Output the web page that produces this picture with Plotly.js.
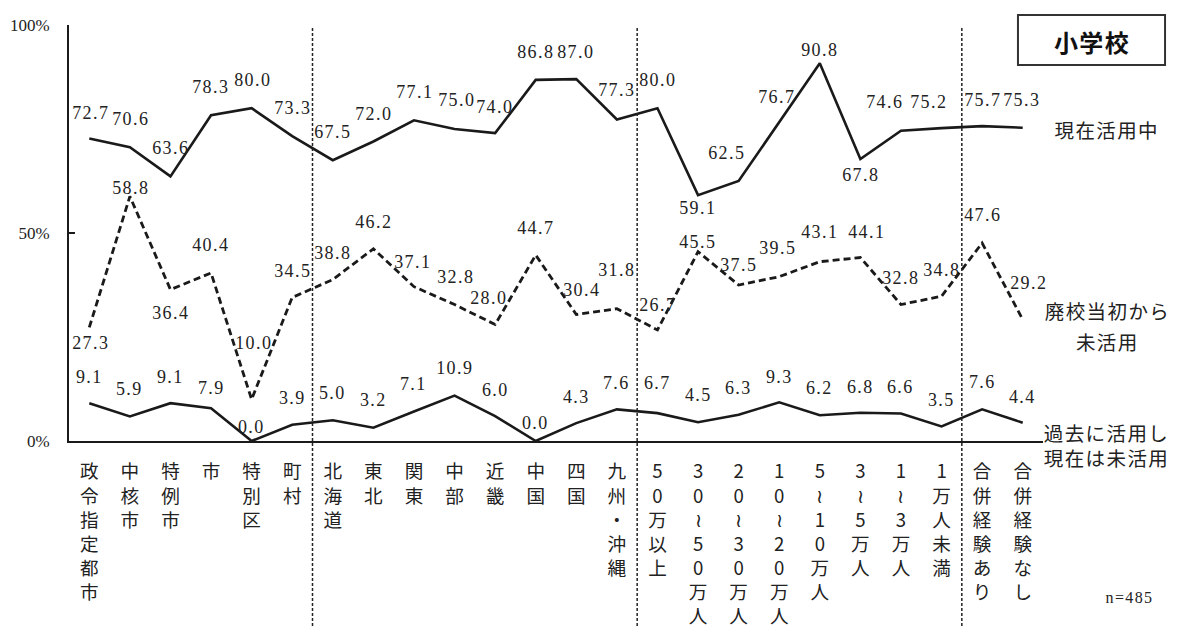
<!DOCTYPE html>
<html>
<head>
<meta charset="utf-8">
<script src="https://cdn.plot.ly/plotly-3.0.1.min.js"></script>
<style>
  html, body { margin: 0; padding: 0; background: #fff; }
  #chart { width: 1178px; height: 627px; }
  #chart g.annotation text { letter-spacing: 1.4px; }
</style>
</head>
<body>
<div id="chart"></div>
<script>
// ---- data ----
const categories = ['政令指定都市', '中核市', '特例市', '市', '特別区', '町村',
  '北海道', '東北', '関東', '中部', '近畿', '中国', '四国', '九州・沖縄',
  '50万以上', '30～50万人', '20～30万人', '10～20万人', '5～10万人', '3～5万人', '1～3万人', '1万人未満',
  '合併経験あり', '合併経験なし'];
const seriesNames = ['現在活用中', '廃校当初から未活用', '過去に活用し現在は未活用'];
const current   = [72.7, 70.6, 63.6, 78.3, 80.0, 73.3, 67.5, 72.0, 77.1, 75.0, 74.0, 86.8, 87.0, 77.3, 80.0, 59.1, 62.5, 76.7, 90.8, 67.8, 74.6, 75.2, 75.7, 75.3];
const neverUsed = [27.3, 58.8, 36.4, 40.4, 10.0, 34.5, 38.8, 46.2, 37.1, 32.8, 28.0, 44.7, 30.4, 31.8, 26.7, 45.5, 37.5, 39.5, 43.1, 44.1, 32.8, 34.8, 47.6, 29.2];
const pastUsed  = [9.1, 5.9, 9.1, 7.9, 0.0, 3.9, 5.0, 3.2, 7.1, 10.9, 6.0, 0.0, 4.3, 7.6, 6.7, 4.5, 6.3, 9.3, 6.2, 6.8, 6.6, 3.5, 7.6, 4.4];
const yTickVals = [0, 50, 100];
const yTickText = ['0%', '50%', '100%'];
const groupBreaks = [5.5, 13.5, 21.5];
const sampleNote = 'n=485';
const chartTitle = '小学校';

// ---- label placement (screen px, down positive) ----
const offCurY  = [-26,-28,-28,-28,-28,-28,-28,-27,-28,-29,-26,-28,-27,-29,-28,13,-28,-25,-13,16,-29,-26,-26,-28];
const offCurX  = [2,1,1,0,1,1,0,1,1,2,0,0,0,0,1,0,-12,-2,0,1,-16,-13,1,-1];
const offNevY  = [16,-8,23,-28,-56,-26,-27,-27,-25,-28,-27,-27,-25,-39,-25,-10,-20,-29,-30,-26,-27,-26,-28,-37];
const offNevX  = [2,1,1,0,2,1,0,1,-1,1,-6,0,6,0,1,0,0,-1,0,7,0,0,1,6];
const offPastY = [-26,-27,-26,-20,-14,-27,-27,-28,-27,-28,-26,-18,-26,-26,-30,-27,-27,-25,-27,-26,-27,-26,-27,-26];

const INK = '#1a1a1a';
const numFont = {family: 'Liberation Serif, serif', size: 18, color: '#222'};
const jpFont = 'Noto Sans CJK JP, sans-serif';

const vertical = s => Array.from(s.replace(/～/g, '≀')).join('<br>');

const traces = [
  {x: categories, y: current, name: seriesNames[0], type: 'scatter', mode: 'lines',
   line: {color: INK, width: 2.6}},
  {x: categories, y: neverUsed, name: seriesNames[1], type: 'scatter', mode: 'lines',
   line: {color: INK, width: 2.8, dash: '7px,4px'}},
  {x: categories, y: pastUsed, name: seriesNames[2], type: 'scatter', mode: 'lines',
   line: {color: INK, width: 2.6}}
];

const annotations = [];
function addLabels(vals, offY, offX) {
  vals.forEach((v, i) => {
    annotations.push({x: categories[i], y: v, xref: 'x', yref: 'y', text: v.toFixed(1),
      showarrow: false, xanchor: 'center', yanchor: 'middle',
      xshift: offX ? offX[i] : 0, yshift: -offY[i], font: numFont});
  });
}
addLabels(current, offCurY, offCurX);
addLabels(neverUsed, offNevY, offNevX);
addLabels(pastUsed, offPastY, null);

const legendFont = {family: jpFont, size: 19.5, color: '#222'};
const sideLabels = [
  {text: '現在活用中', x: 1.0657, y: 0.7476},
  {text: '廃校当初から', x: 1.0667, y: 0.3149},
  {text: '未活用', x: 1.0667, y: 0.238},
  {text: '過去に活用し', x: 1.0657, y: 0.0216},
  {text: '現在は未活用', x: 1.0657, y: -0.0385}
];
sideLabels.forEach(s => annotations.push({xref: 'paper', yref: 'paper', x: s.x, y: s.y,
  text: s.text, showarrow: false, xanchor: 'center', yanchor: 'middle', font: legendFont}));
annotations.push({xref: 'paper', yref: 'paper', x: 1.0893, y: -0.375, text: sampleNote,
  showarrow: false, xanchor: 'center', yanchor: 'middle',
  font: {family: 'Liberation Serif, serif', size: 16, color: '#222'}});
annotations.push({xref: 'paper', yref: 'paper', x: 1.0503, y: 0.9615, text: '<b>' + chartTitle + '</b>',
  showarrow: false, xanchor: 'center', yanchor: 'middle',
  font: {family: jpFont, size: 24, color: '#111'}});

const shapes = groupBreaks.map(b => ({type: 'line', xref: 'x', yref: 'paper',
  x0: b, x1: b, y0: 0.993, y1: -0.447, line: {color: '#222', width: 1.5, dash: '3px,2px'}}));
shapes.push({type: 'rect', xref: 'paper', yref: 'paper', x0: 0.9743, x1: 1.1253, y0: 0.9038, y1: 1.024,
  line: {color: '#333', width: 2}, fillcolor: 'rgba(0,0,0,0)'});

const layout = {
  width: 1178, height: 627,
  margin: {l: 69, r: 135, t: 25, b: 186, pad: 0},
  paper_bgcolor: '#fff', plot_bgcolor: '#fff',
  showlegend: false,
  xaxis: {type: 'category', range: [-0.5, 23.5], tickvals: categories,
    ticktext: categories.map(vertical), tickangle: 0,
    showline: true, linecolor: INK, linewidth: 2, showgrid: false, zeroline: false,
    ticks: '', ticklabelstandoff: 13,
    tickfont: {family: jpFont, size: 18.6, color: '#222'}},
  yaxis: {range: [0, 100], tickvals: yTickVals, ticktext: yTickText,
    showline: true, linecolor: INK, linewidth: 2, showgrid: false, zeroline: false,
    ticks: 'inside', ticklen: 6, tickwidth: 1.5, tickcolor: INK, ticklabelstandoff: 14,
    tickfont: {family: 'Liberation Serif, serif', size: 17, color: '#222'}},
  annotations: annotations,
  shapes: shapes
};

Plotly.newPlot('chart', traces, layout, {displayModeBar: false, staticPlot: true});
</script>
</body>
</html>
